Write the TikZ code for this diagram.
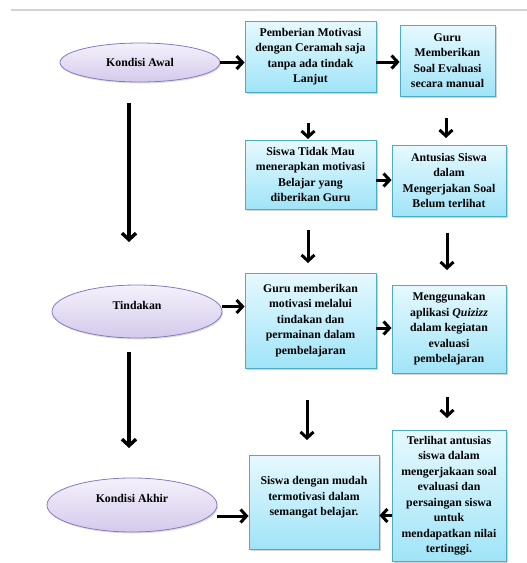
\documentclass[tikz,border=0pt]{standalone}
\usepackage{fontspec}
\setmainfont{Liberation Serif}
\usetikzlibrary{arrows.meta,shadows,shapes.geometric}
\definecolor{boxline}{RGB}{75,172,198}
\definecolor{boxtop}{RGB}{230,249,254}
\definecolor{boxbot}{RGB}{160,228,248}
\definecolor{elline}{RGB}{140,120,190}
\definecolor{eltop}{RGB}{245,241,251}
\definecolor{elbot}{RGB}{212,202,236}
\begin{document}
\begin{tikzpicture}[x=1pt,y=-1pt,
  every node/.style={font=\bfseries\fontsize{11.8}{15.5}\selectfont, align=center, inner sep=2pt},
  box/.style={rectangle, draw=boxline, line width=0.8pt, top color=boxtop, bottom color=boxbot,
    drop shadow={shadow xshift=1.5pt, shadow yshift=-1.5pt, opacity=0.35}},
  oval/.style={ellipse, draw=elline, line width=0.8pt, top color=eltop, bottom color=elbot,
    drop shadow={shadow xshift=1pt, shadow yshift=-1.5pt, opacity=0.25}},
  arr/.style={line width=3pt, -{Straight Barb[length=6pt,width=13pt]}},
  bigarr/.style={line width=3.4pt, -{Straight Barb[length=6.5pt,width=14pt]}}]
\useasboundingbox (0,0) rectangle (527,563);
\coordinate (gl) at (11,10);
\coordinate (gr) at (527,10);
\draw[gray!35, line width=2pt] (gl) -- (gr);

% ellipses
\node[oval, minimum width=160pt, minimum height=39pt] (e1) at (140,62.5) {Kondisi Awal};
\node[oval, minimum width=170pt, minimum height=53pt] (e2) at (137,311.5) {\raisebox{6.5pt}[\height][\depth]{Tindakan}};
\node[oval, minimum width=170pt, minimum height=54pt] (e3) at (132,505) {\raisebox{7pt}[\height][\depth]{Kondisi Akhir}};

% boxes
\node[box, minimum width=131pt, minimum height=71pt] (b1) at (310.5,56.5) {Pemberian Motivasi\\dengan Ceramah saja\\tanpa ada tindak\\Lanjut};
\node[box, minimum width=95pt, minimum height=71pt] (b2) at (447.5,60.5) {Guru\\Memberikan\\Soal Evaluasi\\secara manual};
\node[box, minimum width=131pt, minimum height=69pt] (b3) at (310.5,174.5) {Siswa Tidak Mau\\menerapkan motivasi\\Belajar yang\\diberikan Guru};
\node[box, minimum width=114pt, minimum height=71pt] (b4) at (449,180.5) {Antusias Siswa\\dalam\\Mengerjakan Soal\\Belum terlihat};
\node[box, minimum width=131pt, minimum height=95pt] (b5) at (310.5,320.5) {Guru memberikan\\motivasi melalui\\tindakan dan\\permainan dalam\\pembelajaran};
\node[box, minimum width=114pt, minimum height=88pt] (b6) at (449,329) {Menggunakan\\aplikasi \textit{Quizizz}\\dalam kegiatan\\evaluasi\\pembelajaran};
\node[box, minimum width=130pt, minimum height=94pt] (b7) at (314,502) {\raisebox{5pt}[\height][\depth]{\begin{tabular}{@{}c@{}}Siswa dengan mudah\\termotivasi dalam\\semangat belajar.\end{tabular}}};
\node[box, minimum width=114pt, minimum height=131pt] (b8) at (449,495.5) {Terlihat antusias\\siswa dalam\\mengerjakaan soal\\evaluasi dan\\persaingan siswa\\untuk\\mendapatkan nilai\\tertinggi.};

% horizontal arrows
\draw[arr] (e1.east) -- (e1.east -| b1.west);
\draw[arr] ([yshift=-5.5pt]b1.east) -- ([yshift=-5.5pt]b1.east -| b2.west);
\draw[arr] ([yshift=-5.5pt]b3.east) -- ([yshift=-5.5pt]b3.east -| b4.west);
\draw[arr] ([yshift=5pt]e2.east) -- ([yshift=5pt]e2.east -| b5.west);
\draw[arr] ([yshift=-7.5pt]b5.east) -- ([yshift=-7.5pt]b5.east -| b6.west);
\draw[arr] ([yshift=-11pt]e3.east) -- ([yshift=-11pt]e3.east -| b7.west);
\draw[arr] ([yshift=-20pt]b8.west) -- ([yshift=-20pt]b8.west -| b7.east);

% vertical arrows between boxes (floating)
\coordinate (d1s) at (308,123); \coordinate (d1e) at (308,139);
\coordinate (d2s) at (446,118); \coordinate (d2e) at (446,138);
\coordinate (d3s) at (308,230); \coordinate (d3e) at (308,263);
\coordinate (d4s) at (447,233); \coordinate (d4e) at (447,270);
\coordinate (d5s) at (307,400); \coordinate (d5e) at (307,440);
\coordinate (d6s) at (447,397); \coordinate (d6e) at (447,418);
\draw[arr] (d1s) -- (d1e);
\draw[arr] (d2s) -- (d2e);
\draw[arr] (d3s) -- (d3e);
\draw[arr] (d4s) -- (d4e);
\draw[arr] (d5s) -- (d5e);
\draw[arr] (d6s) -- (d6e);

% left column arrows
\coordinate (l1s) at (129,103); \coordinate (l1e) at (129,242);
\coordinate (l2s) at (129,352); \coordinate (l2e) at (129,448);
\draw[bigarr] (l1s) -- (l1e);
\draw[bigarr] (l2s) -- (l2e);
\end{tikzpicture}
\end{document}
